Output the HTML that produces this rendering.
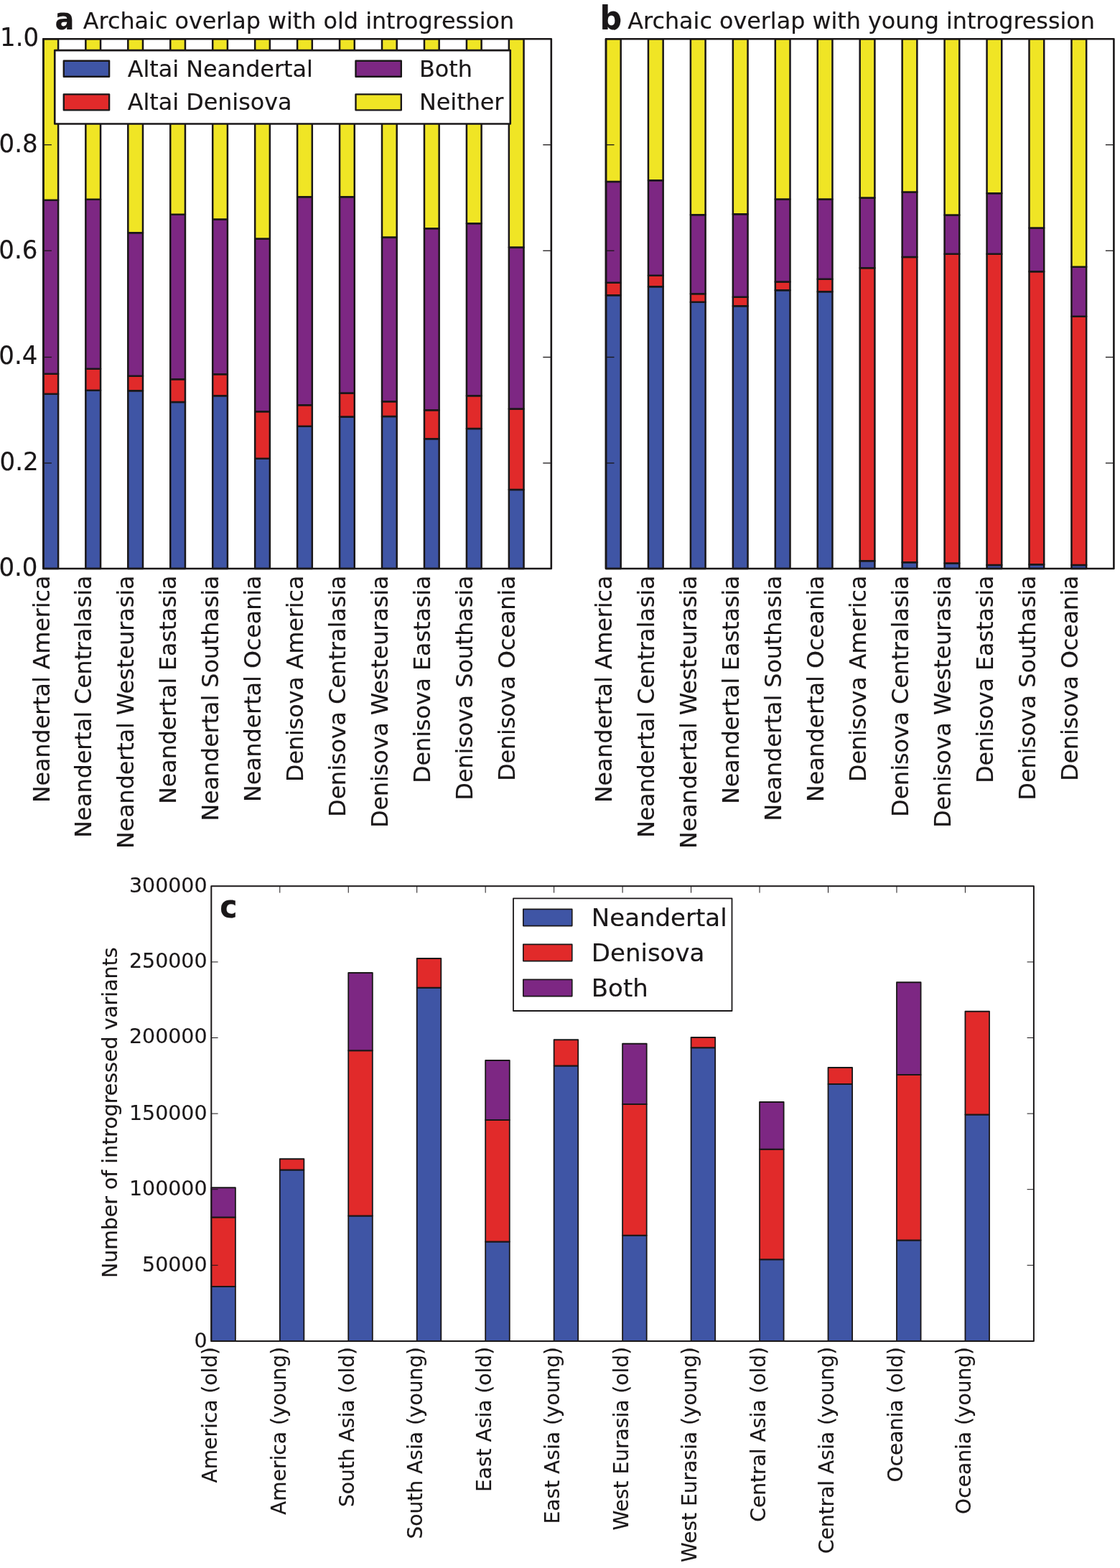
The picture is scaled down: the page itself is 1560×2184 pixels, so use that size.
<!DOCTYPE html>
<html lang="en">
<head>
<meta charset="utf-8">
<title>Archaic overlap with introgression</title>
<style>
html,body{margin:0;padding:0;background:#fff;}
body{width:1560px;height:2184px;overflow:hidden;}
svg{display:block;}
text{fill:#1a1718;stroke:#1a1718;stroke-width:0.18px;stroke-linejoin:round;}
rect{stroke-linejoin:round;}
</style>
</head>
<body>
<svg width="1560" height="2184" viewBox="0 0 1560 2184">
<rect x="0" y="0" width="1560" height="2184" fill="#fff"/>
<g>
<rect x="60.4" y="548.75" width="20.7" height="243.25" fill="#3f55a5" stroke="#1a1718" stroke-width="2.5"/>
<rect x="60.4" y="520.75" width="20.7" height="28" fill="#e12a2a" stroke="#1a1718" stroke-width="2.5"/>
<rect x="60.4" y="278.75" width="20.7" height="242" fill="#7d2783" stroke="#1a1718" stroke-width="2.5"/>
<rect x="60.4" y="54.3" width="20.7" height="224.45" fill="#f0e525" stroke="#1a1718" stroke-width="2.5"/>
<rect x="119.35" y="543.75" width="20.7" height="248.25" fill="#3f55a5" stroke="#1a1718" stroke-width="2.5"/>
<rect x="119.35" y="513.75" width="20.7" height="30" fill="#e12a2a" stroke="#1a1718" stroke-width="2.5"/>
<rect x="119.35" y="277.75" width="20.7" height="236" fill="#7d2783" stroke="#1a1718" stroke-width="2.5"/>
<rect x="119.35" y="54.3" width="20.7" height="223.45" fill="#f0e525" stroke="#1a1718" stroke-width="2.5"/>
<rect x="178.3" y="544.25" width="20.7" height="247.75" fill="#3f55a5" stroke="#1a1718" stroke-width="2.5"/>
<rect x="178.3" y="523.75" width="20.7" height="20.5" fill="#e12a2a" stroke="#1a1718" stroke-width="2.5"/>
<rect x="178.3" y="324.25" width="20.7" height="199.5" fill="#7d2783" stroke="#1a1718" stroke-width="2.5"/>
<rect x="178.3" y="54.3" width="20.7" height="269.95" fill="#f0e525" stroke="#1a1718" stroke-width="2.5"/>
<rect x="237.25" y="560" width="20.7" height="232" fill="#3f55a5" stroke="#1a1718" stroke-width="2.5"/>
<rect x="237.25" y="528.25" width="20.7" height="31.75" fill="#e12a2a" stroke="#1a1718" stroke-width="2.5"/>
<rect x="237.25" y="298.75" width="20.7" height="229.5" fill="#7d2783" stroke="#1a1718" stroke-width="2.5"/>
<rect x="237.25" y="54.3" width="20.7" height="244.45" fill="#f0e525" stroke="#1a1718" stroke-width="2.5"/>
<rect x="296.2" y="551.25" width="20.7" height="240.75" fill="#3f55a5" stroke="#1a1718" stroke-width="2.5"/>
<rect x="296.2" y="521.25" width="20.7" height="30" fill="#e12a2a" stroke="#1a1718" stroke-width="2.5"/>
<rect x="296.2" y="305.5" width="20.7" height="215.75" fill="#7d2783" stroke="#1a1718" stroke-width="2.5"/>
<rect x="296.2" y="54.3" width="20.7" height="251.2" fill="#f0e525" stroke="#1a1718" stroke-width="2.5"/>
<rect x="355.15" y="638.75" width="20.7" height="153.25" fill="#3f55a5" stroke="#1a1718" stroke-width="2.5"/>
<rect x="355.15" y="573.25" width="20.7" height="65.5" fill="#e12a2a" stroke="#1a1718" stroke-width="2.5"/>
<rect x="355.15" y="332.5" width="20.7" height="240.75" fill="#7d2783" stroke="#1a1718" stroke-width="2.5"/>
<rect x="355.15" y="54.3" width="20.7" height="278.2" fill="#f0e525" stroke="#1a1718" stroke-width="2.5"/>
<rect x="414.1" y="593.75" width="20.7" height="198.25" fill="#3f55a5" stroke="#1a1718" stroke-width="2.5"/>
<rect x="414.1" y="564.25" width="20.7" height="29.5" fill="#e12a2a" stroke="#1a1718" stroke-width="2.5"/>
<rect x="414.1" y="274.25" width="20.7" height="290" fill="#7d2783" stroke="#1a1718" stroke-width="2.5"/>
<rect x="414.1" y="54.3" width="20.7" height="219.95" fill="#f0e525" stroke="#1a1718" stroke-width="2.5"/>
<rect x="473.05" y="580.5" width="20.7" height="211.5" fill="#3f55a5" stroke="#1a1718" stroke-width="2.5"/>
<rect x="473.05" y="547.5" width="20.7" height="33" fill="#e12a2a" stroke="#1a1718" stroke-width="2.5"/>
<rect x="473.05" y="274.25" width="20.7" height="273.25" fill="#7d2783" stroke="#1a1718" stroke-width="2.5"/>
<rect x="473.05" y="54.3" width="20.7" height="219.95" fill="#f0e525" stroke="#1a1718" stroke-width="2.5"/>
<rect x="532" y="580" width="20.7" height="212" fill="#3f55a5" stroke="#1a1718" stroke-width="2.5"/>
<rect x="532" y="559.25" width="20.7" height="20.75" fill="#e12a2a" stroke="#1a1718" stroke-width="2.5"/>
<rect x="532" y="330.5" width="20.7" height="228.75" fill="#7d2783" stroke="#1a1718" stroke-width="2.5"/>
<rect x="532" y="54.3" width="20.7" height="276.2" fill="#f0e525" stroke="#1a1718" stroke-width="2.5"/>
<rect x="590.95" y="611.25" width="20.7" height="180.75" fill="#3f55a5" stroke="#1a1718" stroke-width="2.5"/>
<rect x="590.95" y="571.25" width="20.7" height="40" fill="#e12a2a" stroke="#1a1718" stroke-width="2.5"/>
<rect x="590.95" y="318.25" width="20.7" height="253" fill="#7d2783" stroke="#1a1718" stroke-width="2.5"/>
<rect x="590.95" y="54.3" width="20.7" height="263.95" fill="#f0e525" stroke="#1a1718" stroke-width="2.5"/>
<rect x="649.9" y="597" width="20.7" height="195" fill="#3f55a5" stroke="#1a1718" stroke-width="2.5"/>
<rect x="649.9" y="551.25" width="20.7" height="45.75" fill="#e12a2a" stroke="#1a1718" stroke-width="2.5"/>
<rect x="649.9" y="311.25" width="20.7" height="240" fill="#7d2783" stroke="#1a1718" stroke-width="2.5"/>
<rect x="649.9" y="54.3" width="20.7" height="256.95" fill="#f0e525" stroke="#1a1718" stroke-width="2.5"/>
<rect x="708.85" y="682" width="20.7" height="110" fill="#3f55a5" stroke="#1a1718" stroke-width="2.5"/>
<rect x="708.85" y="569.5" width="20.7" height="112.5" fill="#e12a2a" stroke="#1a1718" stroke-width="2.5"/>
<rect x="708.85" y="344.5" width="20.7" height="225" fill="#7d2783" stroke="#1a1718" stroke-width="2.5"/>
<rect x="708.85" y="54.3" width="20.7" height="290.2" fill="#f0e525" stroke="#1a1718" stroke-width="2.5"/>
<line x1="60.4" y1="645" x2="71.9" y2="645" stroke="#1a1718" stroke-width="1.3"/>
<line x1="767.8" y1="645" x2="756.3" y2="645" stroke="#1a1718" stroke-width="1.3"/>
<line x1="60.4" y1="497.5" x2="71.9" y2="497.5" stroke="#1a1718" stroke-width="1.3"/>
<line x1="767.8" y1="497.5" x2="756.3" y2="497.5" stroke="#1a1718" stroke-width="1.3"/>
<line x1="60.4" y1="349.2" x2="71.9" y2="349.2" stroke="#1a1718" stroke-width="1.3"/>
<line x1="767.8" y1="349.2" x2="756.3" y2="349.2" stroke="#1a1718" stroke-width="1.3"/>
<line x1="60.4" y1="201.7" x2="71.9" y2="201.7" stroke="#1a1718" stroke-width="1.3"/>
<line x1="767.8" y1="201.7" x2="756.3" y2="201.7" stroke="#1a1718" stroke-width="1.3"/>
<rect x="60.4" y="54.3" width="707.4" height="737.7" fill="none" stroke="#1a1718" stroke-width="2.6"/>
<text transform="translate(52.5 802.4) scale(0.972 1)" font-size="35" text-anchor="end" font-family="'DejaVu Sans','Liberation Sans',sans-serif">0.0</text>
<text transform="translate(53.7 655.36) scale(0.972 1)" font-size="35" text-anchor="end" font-family="'DejaVu Sans','Liberation Sans',sans-serif">0.2</text>
<text transform="translate(52.4 507.02) scale(0.972 1)" font-size="35" text-anchor="end" font-family="'DejaVu Sans','Liberation Sans',sans-serif">0.4</text>
<text transform="translate(52.4 359.68) scale(0.972 1)" font-size="35" text-anchor="end" font-family="'DejaVu Sans','Liberation Sans',sans-serif">0.6</text>
<text transform="translate(52.7 211.54) scale(0.972 1)" font-size="35" text-anchor="end" font-family="'DejaVu Sans','Liberation Sans',sans-serif">0.8</text>
<text transform="translate(54.2 64.2) scale(0.972 1)" font-size="35" text-anchor="end" font-family="'DejaVu Sans','Liberation Sans',sans-serif">1.0</text>
<text x="68.55" y="801.6" font-size="31.66" text-anchor="end" transform="rotate(-90 68.55 801.6)" font-family="'DejaVu Sans','Liberation Sans',sans-serif">Neandertal America</text>
<text x="127.5" y="801.6" font-size="31.66" text-anchor="end" transform="rotate(-90 127.5 801.6)" font-family="'DejaVu Sans','Liberation Sans',sans-serif">Neandertal Centralasia</text>
<text x="186.45" y="801.6" font-size="31.66" text-anchor="end" transform="rotate(-90 186.45 801.6)" font-family="'DejaVu Sans','Liberation Sans',sans-serif">Neandertal Westeurasia</text>
<text x="245.4" y="801.6" font-size="31.66" text-anchor="end" transform="rotate(-90 245.4 801.6)" font-family="'DejaVu Sans','Liberation Sans',sans-serif">Neandertal Eastasia</text>
<text x="304.35" y="801.6" font-size="31.66" text-anchor="end" transform="rotate(-90 304.35 801.6)" font-family="'DejaVu Sans','Liberation Sans',sans-serif">Neandertal Southasia</text>
<text x="363.3" y="801.6" font-size="31.66" text-anchor="end" transform="rotate(-90 363.3 801.6)" font-family="'DejaVu Sans','Liberation Sans',sans-serif">Neandertal Oceania</text>
<text x="422.25" y="801.6" font-size="31.66" text-anchor="end" transform="rotate(-90 422.25 801.6)" font-family="'DejaVu Sans','Liberation Sans',sans-serif">Denisova America</text>
<text x="481.2" y="801.6" font-size="31.66" text-anchor="end" transform="rotate(-90 481.2 801.6)" font-family="'DejaVu Sans','Liberation Sans',sans-serif">Denisova Centralasia</text>
<text x="540.15" y="801.6" font-size="31.66" text-anchor="end" transform="rotate(-90 540.15 801.6)" font-family="'DejaVu Sans','Liberation Sans',sans-serif">Denisova Westeurasia</text>
<text x="599.1" y="801.6" font-size="31.66" text-anchor="end" transform="rotate(-90 599.1 801.6)" font-family="'DejaVu Sans','Liberation Sans',sans-serif">Denisova Eastasia</text>
<text x="658.05" y="801.6" font-size="31.66" text-anchor="end" transform="rotate(-90 658.05 801.6)" font-family="'DejaVu Sans','Liberation Sans',sans-serif">Denisova Southasia</text>
<text x="717" y="801.6" font-size="31.66" text-anchor="end" transform="rotate(-90 717 801.6)" font-family="'DejaVu Sans','Liberation Sans',sans-serif">Denisova Oceania</text>
<text transform="translate(76.4 40.7) scale(0.92 1)" font-size="43.3" font-weight="bold" font-family="'DejaVu Sans','Liberation Sans',sans-serif">a</text>
<text x="115.8" y="40" font-size="31.8" text-anchor="start" font-family="'DejaVu Sans','Liberation Sans',sans-serif">Archaic overlap with old introgression</text>
</g>
<g>
<rect x="844" y="411.25" width="20.7" height="380.75" fill="#3f55a5" stroke="#1a1718" stroke-width="2.5"/>
<rect x="844" y="393.75" width="20.7" height="17.5" fill="#e12a2a" stroke="#1a1718" stroke-width="2.5"/>
<rect x="844" y="253" width="20.7" height="140.75" fill="#7d2783" stroke="#1a1718" stroke-width="2.5"/>
<rect x="844" y="54.3" width="20.7" height="198.7" fill="#f0e525" stroke="#1a1718" stroke-width="2.5"/>
<rect x="902.95" y="399.25" width="20.7" height="392.75" fill="#3f55a5" stroke="#1a1718" stroke-width="2.5"/>
<rect x="902.95" y="383.75" width="20.7" height="15.5" fill="#e12a2a" stroke="#1a1718" stroke-width="2.5"/>
<rect x="902.95" y="251.25" width="20.7" height="132.5" fill="#7d2783" stroke="#1a1718" stroke-width="2.5"/>
<rect x="902.95" y="54.3" width="20.7" height="196.95" fill="#f0e525" stroke="#1a1718" stroke-width="2.5"/>
<rect x="961.9" y="420.75" width="20.7" height="371.25" fill="#3f55a5" stroke="#1a1718" stroke-width="2.5"/>
<rect x="961.9" y="409.25" width="20.7" height="11.5" fill="#e12a2a" stroke="#1a1718" stroke-width="2.5"/>
<rect x="961.9" y="299.25" width="20.7" height="110" fill="#7d2783" stroke="#1a1718" stroke-width="2.5"/>
<rect x="961.9" y="54.3" width="20.7" height="244.95" fill="#f0e525" stroke="#1a1718" stroke-width="2.5"/>
<rect x="1020.85" y="426.25" width="20.7" height="365.75" fill="#3f55a5" stroke="#1a1718" stroke-width="2.5"/>
<rect x="1020.85" y="413.75" width="20.7" height="12.5" fill="#e12a2a" stroke="#1a1718" stroke-width="2.5"/>
<rect x="1020.85" y="298.25" width="20.7" height="115.5" fill="#7d2783" stroke="#1a1718" stroke-width="2.5"/>
<rect x="1020.85" y="54.3" width="20.7" height="243.95" fill="#f0e525" stroke="#1a1718" stroke-width="2.5"/>
<rect x="1079.8" y="404.25" width="20.7" height="387.75" fill="#3f55a5" stroke="#1a1718" stroke-width="2.5"/>
<rect x="1079.8" y="392.5" width="20.7" height="11.75" fill="#e12a2a" stroke="#1a1718" stroke-width="2.5"/>
<rect x="1079.8" y="277.5" width="20.7" height="115" fill="#7d2783" stroke="#1a1718" stroke-width="2.5"/>
<rect x="1079.8" y="54.3" width="20.7" height="223.2" fill="#f0e525" stroke="#1a1718" stroke-width="2.5"/>
<rect x="1138.75" y="406.25" width="20.7" height="385.75" fill="#3f55a5" stroke="#1a1718" stroke-width="2.5"/>
<rect x="1138.75" y="388.75" width="20.7" height="17.5" fill="#e12a2a" stroke="#1a1718" stroke-width="2.5"/>
<rect x="1138.75" y="277.5" width="20.7" height="111.25" fill="#7d2783" stroke="#1a1718" stroke-width="2.5"/>
<rect x="1138.75" y="54.3" width="20.7" height="223.2" fill="#f0e525" stroke="#1a1718" stroke-width="2.5"/>
<rect x="1197.7" y="781.25" width="20.7" height="10.75" fill="#3f55a5" stroke="#1a1718" stroke-width="2.5"/>
<rect x="1197.7" y="373.25" width="20.7" height="408" fill="#e12a2a" stroke="#1a1718" stroke-width="2.5"/>
<rect x="1197.7" y="275.5" width="20.7" height="97.75" fill="#7d2783" stroke="#1a1718" stroke-width="2.5"/>
<rect x="1197.7" y="54.3" width="20.7" height="221.2" fill="#f0e525" stroke="#1a1718" stroke-width="2.5"/>
<rect x="1256.65" y="783.25" width="20.7" height="8.75" fill="#3f55a5" stroke="#1a1718" stroke-width="2.5"/>
<rect x="1256.65" y="358" width="20.7" height="425.25" fill="#e12a2a" stroke="#1a1718" stroke-width="2.5"/>
<rect x="1256.65" y="267.5" width="20.7" height="90.5" fill="#7d2783" stroke="#1a1718" stroke-width="2.5"/>
<rect x="1256.65" y="54.3" width="20.7" height="213.2" fill="#f0e525" stroke="#1a1718" stroke-width="2.5"/>
<rect x="1315.6" y="784.5" width="20.7" height="7.5" fill="#3f55a5" stroke="#1a1718" stroke-width="2.5"/>
<rect x="1315.6" y="353.75" width="20.7" height="430.75" fill="#e12a2a" stroke="#1a1718" stroke-width="2.5"/>
<rect x="1315.6" y="299.5" width="20.7" height="54.25" fill="#7d2783" stroke="#1a1718" stroke-width="2.5"/>
<rect x="1315.6" y="54.3" width="20.7" height="245.2" fill="#f0e525" stroke="#1a1718" stroke-width="2.5"/>
<rect x="1374.55" y="787" width="20.7" height="5" fill="#3f55a5" stroke="#1a1718" stroke-width="2.5"/>
<rect x="1374.55" y="353.75" width="20.7" height="433.25" fill="#e12a2a" stroke="#1a1718" stroke-width="2.5"/>
<rect x="1374.55" y="269.25" width="20.7" height="84.5" fill="#7d2783" stroke="#1a1718" stroke-width="2.5"/>
<rect x="1374.55" y="54.3" width="20.7" height="214.95" fill="#f0e525" stroke="#1a1718" stroke-width="2.5"/>
<rect x="1433.5" y="786.25" width="20.7" height="5.75" fill="#3f55a5" stroke="#1a1718" stroke-width="2.5"/>
<rect x="1433.5" y="378.25" width="20.7" height="408" fill="#e12a2a" stroke="#1a1718" stroke-width="2.5"/>
<rect x="1433.5" y="317.5" width="20.7" height="60.75" fill="#7d2783" stroke="#1a1718" stroke-width="2.5"/>
<rect x="1433.5" y="54.3" width="20.7" height="263.2" fill="#f0e525" stroke="#1a1718" stroke-width="2.5"/>
<rect x="1492.45" y="787" width="20.7" height="5" fill="#3f55a5" stroke="#1a1718" stroke-width="2.5"/>
<rect x="1492.45" y="440.75" width="20.7" height="346.25" fill="#e12a2a" stroke="#1a1718" stroke-width="2.5"/>
<rect x="1492.45" y="371.75" width="20.7" height="69" fill="#7d2783" stroke="#1a1718" stroke-width="2.5"/>
<rect x="1492.45" y="54.3" width="20.7" height="317.45" fill="#f0e525" stroke="#1a1718" stroke-width="2.5"/>
<line x1="844" y1="645" x2="855.5" y2="645" stroke="#1a1718" stroke-width="1.3"/>
<line x1="1551.4" y1="645" x2="1539.9" y2="645" stroke="#1a1718" stroke-width="1.3"/>
<line x1="844" y1="497.5" x2="855.5" y2="497.5" stroke="#1a1718" stroke-width="1.3"/>
<line x1="1551.4" y1="497.5" x2="1539.9" y2="497.5" stroke="#1a1718" stroke-width="1.3"/>
<line x1="844" y1="349.2" x2="855.5" y2="349.2" stroke="#1a1718" stroke-width="1.3"/>
<line x1="1551.4" y1="349.2" x2="1539.9" y2="349.2" stroke="#1a1718" stroke-width="1.3"/>
<line x1="844" y1="201.7" x2="855.5" y2="201.7" stroke="#1a1718" stroke-width="1.3"/>
<line x1="1551.4" y1="201.7" x2="1539.9" y2="201.7" stroke="#1a1718" stroke-width="1.3"/>
<rect x="844" y="54.3" width="707.4" height="737.7" fill="none" stroke="#1a1718" stroke-width="2.6"/>
<text x="852.15" y="801.6" font-size="31.66" text-anchor="end" transform="rotate(-90 852.15 801.6)" font-family="'DejaVu Sans','Liberation Sans',sans-serif">Neandertal America</text>
<text x="911.1" y="801.6" font-size="31.66" text-anchor="end" transform="rotate(-90 911.1 801.6)" font-family="'DejaVu Sans','Liberation Sans',sans-serif">Neandertal Centralasia</text>
<text x="970.05" y="801.6" font-size="31.66" text-anchor="end" transform="rotate(-90 970.05 801.6)" font-family="'DejaVu Sans','Liberation Sans',sans-serif">Neandertal Westeurasia</text>
<text x="1029" y="801.6" font-size="31.66" text-anchor="end" transform="rotate(-90 1029 801.6)" font-family="'DejaVu Sans','Liberation Sans',sans-serif">Neandertal Eastasia</text>
<text x="1087.95" y="801.6" font-size="31.66" text-anchor="end" transform="rotate(-90 1087.95 801.6)" font-family="'DejaVu Sans','Liberation Sans',sans-serif">Neandertal Southasia</text>
<text x="1146.9" y="801.6" font-size="31.66" text-anchor="end" transform="rotate(-90 1146.9 801.6)" font-family="'DejaVu Sans','Liberation Sans',sans-serif">Neandertal Oceania</text>
<text x="1205.85" y="801.6" font-size="31.66" text-anchor="end" transform="rotate(-90 1205.85 801.6)" font-family="'DejaVu Sans','Liberation Sans',sans-serif">Denisova America</text>
<text x="1264.8" y="801.6" font-size="31.66" text-anchor="end" transform="rotate(-90 1264.8 801.6)" font-family="'DejaVu Sans','Liberation Sans',sans-serif">Denisova Centralasia</text>
<text x="1323.75" y="801.6" font-size="31.66" text-anchor="end" transform="rotate(-90 1323.75 801.6)" font-family="'DejaVu Sans','Liberation Sans',sans-serif">Denisova Westeurasia</text>
<text x="1382.7" y="801.6" font-size="31.66" text-anchor="end" transform="rotate(-90 1382.7 801.6)" font-family="'DejaVu Sans','Liberation Sans',sans-serif">Denisova Eastasia</text>
<text x="1441.65" y="801.6" font-size="31.66" text-anchor="end" transform="rotate(-90 1441.65 801.6)" font-family="'DejaVu Sans','Liberation Sans',sans-serif">Denisova Southasia</text>
<text x="1500.6" y="801.6" font-size="31.66" text-anchor="end" transform="rotate(-90 1500.6 801.6)" font-family="'DejaVu Sans','Liberation Sans',sans-serif">Denisova Oceania</text>
<text transform="translate(835.4 40.7) scale(0.92 1)" font-size="46.5" font-weight="bold" font-family="'DejaVu Sans','Liberation Sans',sans-serif">b</text>
<text x="874.3" y="40" font-size="31.8" text-anchor="start" font-family="'DejaVu Sans','Liberation Sans',sans-serif">Archaic overlap with young introgression</text>
</g>
<g>
<rect x="76.25" y="70.1" width="634.5" height="102.4" fill="#fff" stroke="#1a1718" stroke-width="2.6"/>
<rect x="88.8" y="84.8" width="63.3" height="22" fill="#3f55a5" stroke="#1a1718" stroke-width="2.4"/>
<text x="177.7" y="107" font-size="31.8" text-anchor="start" font-family="'DejaVu Sans','Liberation Sans',sans-serif">Altai Neandertal</text>
<rect x="88.8" y="131.35" width="63.3" height="22" fill="#e12a2a" stroke="#1a1718" stroke-width="2.4"/>
<text x="177.7" y="153.25" font-size="31.8" text-anchor="start" font-family="'DejaVu Sans','Liberation Sans',sans-serif">Altai Denisova</text>
<rect x="495.5" y="84.8" width="63.3" height="22" fill="#7d2783" stroke="#1a1718" stroke-width="2.4"/>
<text x="584" y="107" font-size="31.8" text-anchor="start" font-family="'DejaVu Sans','Liberation Sans',sans-serif">Both</text>
<rect x="495.5" y="131.35" width="63.3" height="22" fill="#f0e525" stroke="#1a1718" stroke-width="2.4"/>
<text x="584" y="153.25" font-size="31.8" text-anchor="start" font-family="'DejaVu Sans','Liberation Sans',sans-serif">Neither</text>
</g>
<g>
<rect x="294.3" y="1792" width="33.6" height="75.9" fill="#3f55a5" stroke="#1a1718" stroke-width="1.8"/>
<rect x="294.3" y="1695.5" width="33.6" height="96.5" fill="#e12a2a" stroke="#1a1718" stroke-width="1.8"/>
<rect x="294.3" y="1654.25" width="33.6" height="41.25" fill="#7d2783" stroke="#1a1718" stroke-width="1.8"/>
<rect x="389.77" y="1629.5" width="33.6" height="238.4" fill="#3f55a5" stroke="#1a1718" stroke-width="1.8"/>
<rect x="389.77" y="1614.25" width="33.6" height="15.25" fill="#e12a2a" stroke="#1a1718" stroke-width="1.8"/>
<rect x="485.23" y="1693.5" width="33.6" height="174.4" fill="#3f55a5" stroke="#1a1718" stroke-width="1.8"/>
<rect x="485.23" y="1463.25" width="33.6" height="230.25" fill="#e12a2a" stroke="#1a1718" stroke-width="1.8"/>
<rect x="485.23" y="1355" width="33.6" height="108.25" fill="#7d2783" stroke="#1a1718" stroke-width="1.8"/>
<rect x="580.7" y="1375.75" width="33.6" height="492.15" fill="#3f55a5" stroke="#1a1718" stroke-width="1.8"/>
<rect x="580.7" y="1335" width="33.6" height="40.75" fill="#e12a2a" stroke="#1a1718" stroke-width="1.8"/>
<rect x="676.17" y="1729.5" width="33.6" height="138.4" fill="#3f55a5" stroke="#1a1718" stroke-width="1.8"/>
<rect x="676.17" y="1560" width="33.6" height="169.5" fill="#e12a2a" stroke="#1a1718" stroke-width="1.8"/>
<rect x="676.17" y="1477" width="33.6" height="83" fill="#7d2783" stroke="#1a1718" stroke-width="1.8"/>
<rect x="771.63" y="1484.5" width="33.6" height="383.4" fill="#3f55a5" stroke="#1a1718" stroke-width="1.8"/>
<rect x="771.63" y="1448.25" width="33.6" height="36.25" fill="#e12a2a" stroke="#1a1718" stroke-width="1.8"/>
<rect x="867.1" y="1720.75" width="33.6" height="147.15" fill="#3f55a5" stroke="#1a1718" stroke-width="1.8"/>
<rect x="867.1" y="1538" width="33.6" height="182.75" fill="#e12a2a" stroke="#1a1718" stroke-width="1.8"/>
<rect x="867.1" y="1453.75" width="33.6" height="84.25" fill="#7d2783" stroke="#1a1718" stroke-width="1.8"/>
<rect x="962.57" y="1459.25" width="33.6" height="408.65" fill="#3f55a5" stroke="#1a1718" stroke-width="1.8"/>
<rect x="962.57" y="1445" width="33.6" height="14.25" fill="#e12a2a" stroke="#1a1718" stroke-width="1.8"/>
<rect x="1058.03" y="1754.25" width="33.6" height="113.65" fill="#3f55a5" stroke="#1a1718" stroke-width="1.8"/>
<rect x="1058.03" y="1600.75" width="33.6" height="153.5" fill="#e12a2a" stroke="#1a1718" stroke-width="1.8"/>
<rect x="1058.03" y="1535" width="33.6" height="65.75" fill="#7d2783" stroke="#1a1718" stroke-width="1.8"/>
<rect x="1153.5" y="1510" width="33.6" height="357.9" fill="#3f55a5" stroke="#1a1718" stroke-width="1.8"/>
<rect x="1153.5" y="1487" width="33.6" height="23" fill="#e12a2a" stroke="#1a1718" stroke-width="1.8"/>
<rect x="1248.97" y="1727.5" width="33.6" height="140.4" fill="#3f55a5" stroke="#1a1718" stroke-width="1.8"/>
<rect x="1248.97" y="1497" width="33.6" height="230.5" fill="#e12a2a" stroke="#1a1718" stroke-width="1.8"/>
<rect x="1248.97" y="1368.25" width="33.6" height="128.75" fill="#7d2783" stroke="#1a1718" stroke-width="1.8"/>
<rect x="1344.43" y="1552.5" width="33.6" height="315.4" fill="#3f55a5" stroke="#1a1718" stroke-width="1.8"/>
<rect x="1344.43" y="1408.75" width="33.6" height="143.75" fill="#e12a2a" stroke="#1a1718" stroke-width="1.8"/>
<line x1="294.3" y1="1762.3" x2="303.6" y2="1762.3" stroke="#1a1718" stroke-width="1.0"/>
<line x1="1439.9" y1="1762.3" x2="1430.6" y2="1762.3" stroke="#1a1718" stroke-width="1.0"/>
<line x1="294.3" y1="1656.7" x2="303.6" y2="1656.7" stroke="#1a1718" stroke-width="1.0"/>
<line x1="1439.9" y1="1656.7" x2="1430.6" y2="1656.7" stroke="#1a1718" stroke-width="1.0"/>
<line x1="294.3" y1="1551.1" x2="303.6" y2="1551.1" stroke="#1a1718" stroke-width="1.0"/>
<line x1="1439.9" y1="1551.1" x2="1430.6" y2="1551.1" stroke="#1a1718" stroke-width="1.0"/>
<line x1="294.3" y1="1445.5" x2="303.6" y2="1445.5" stroke="#1a1718" stroke-width="1.0"/>
<line x1="1439.9" y1="1445.5" x2="1430.6" y2="1445.5" stroke="#1a1718" stroke-width="1.0"/>
<line x1="294.3" y1="1339.9" x2="303.6" y2="1339.9" stroke="#1a1718" stroke-width="1.0"/>
<line x1="1439.9" y1="1339.9" x2="1430.6" y2="1339.9" stroke="#1a1718" stroke-width="1.0"/>
<line x1="389.77" y1="1234.3" x2="389.77" y2="1243.6" stroke="#1a1718" stroke-width="1.0"/>
<line x1="485.23" y1="1234.3" x2="485.23" y2="1243.6" stroke="#1a1718" stroke-width="1.0"/>
<line x1="580.7" y1="1234.3" x2="580.7" y2="1243.6" stroke="#1a1718" stroke-width="1.0"/>
<line x1="676.17" y1="1234.3" x2="676.17" y2="1243.6" stroke="#1a1718" stroke-width="1.0"/>
<line x1="771.63" y1="1234.3" x2="771.63" y2="1243.6" stroke="#1a1718" stroke-width="1.0"/>
<line x1="867.1" y1="1234.3" x2="867.1" y2="1243.6" stroke="#1a1718" stroke-width="1.0"/>
<line x1="962.57" y1="1234.3" x2="962.57" y2="1243.6" stroke="#1a1718" stroke-width="1.0"/>
<line x1="1058.03" y1="1234.3" x2="1058.03" y2="1243.6" stroke="#1a1718" stroke-width="1.0"/>
<line x1="1153.5" y1="1234.3" x2="1153.5" y2="1243.6" stroke="#1a1718" stroke-width="1.0"/>
<line x1="1248.97" y1="1234.3" x2="1248.97" y2="1243.6" stroke="#1a1718" stroke-width="1.0"/>
<line x1="1344.43" y1="1234.3" x2="1344.43" y2="1243.6" stroke="#1a1718" stroke-width="1.0"/>
<rect x="294.3" y="1234.3" width="1145.6" height="633.6" fill="none" stroke="#1a1718" stroke-width="2.0"/>
<text transform="translate(288.6 1877.3) scale(0.975 1)" font-size="29.2" text-anchor="end" font-family="'DejaVu Sans','Liberation Sans',sans-serif">0</text>
<text transform="translate(288.6 1770.7) scale(0.975 1)" font-size="29.2" text-anchor="end" font-family="'DejaVu Sans','Liberation Sans',sans-serif">50000</text>
<text transform="translate(288.6 1665.1) scale(0.975 1)" font-size="29.2" text-anchor="end" font-family="'DejaVu Sans','Liberation Sans',sans-serif">100000</text>
<text transform="translate(288.6 1559.5) scale(0.975 1)" font-size="29.2" text-anchor="end" font-family="'DejaVu Sans','Liberation Sans',sans-serif">150000</text>
<text transform="translate(288.6 1453.3) scale(0.975 1)" font-size="29.2" text-anchor="end" font-family="'DejaVu Sans','Liberation Sans',sans-serif">200000</text>
<text transform="translate(288.6 1348.3) scale(0.975 1)" font-size="29.2" text-anchor="end" font-family="'DejaVu Sans','Liberation Sans',sans-serif">250000</text>
<text transform="translate(288.6 1242.9) scale(0.975 1)" font-size="29.2" text-anchor="end" font-family="'DejaVu Sans','Liberation Sans',sans-serif">300000</text>
<text x="302.1" y="1875.9" font-size="28.1" text-anchor="end" transform="rotate(-90 302.1 1875.9)" font-family="'DejaVu Sans','Liberation Sans',sans-serif">America (old)</text>
<text x="397.57" y="1875.9" font-size="28.1" text-anchor="end" transform="rotate(-90 397.57 1875.9)" font-family="'DejaVu Sans','Liberation Sans',sans-serif">America (young)</text>
<text x="493.03" y="1875.9" font-size="28.1" text-anchor="end" transform="rotate(-90 493.03 1875.9)" font-family="'DejaVu Sans','Liberation Sans',sans-serif">South Asia (old)</text>
<text x="588.5" y="1875.9" font-size="28.1" text-anchor="end" transform="rotate(-90 588.5 1875.9)" font-family="'DejaVu Sans','Liberation Sans',sans-serif">South Asia (young)</text>
<text x="683.97" y="1875.9" font-size="28.1" text-anchor="end" transform="rotate(-90 683.97 1875.9)" font-family="'DejaVu Sans','Liberation Sans',sans-serif">East Asia (old)</text>
<text x="779.43" y="1875.9" font-size="28.1" text-anchor="end" transform="rotate(-90 779.43 1875.9)" font-family="'DejaVu Sans','Liberation Sans',sans-serif">East Asia (young)</text>
<text x="874.9" y="1875.9" font-size="28.1" text-anchor="end" transform="rotate(-90 874.9 1875.9)" font-family="'DejaVu Sans','Liberation Sans',sans-serif">West Eurasia (old)</text>
<text x="970.37" y="1875.9" font-size="28.1" text-anchor="end" transform="rotate(-90 970.37 1875.9)" font-family="'DejaVu Sans','Liberation Sans',sans-serif">West Eurasia (young)</text>
<text x="1065.83" y="1875.9" font-size="28.1" text-anchor="end" transform="rotate(-90 1065.83 1875.9)" font-family="'DejaVu Sans','Liberation Sans',sans-serif">Central Asia (old)</text>
<text x="1161.3" y="1875.9" font-size="28.1" text-anchor="end" transform="rotate(-90 1161.3 1875.9)" font-family="'DejaVu Sans','Liberation Sans',sans-serif">Central Asia (young)</text>
<text x="1256.77" y="1875.9" font-size="28.1" text-anchor="end" transform="rotate(-90 1256.77 1875.9)" font-family="'DejaVu Sans','Liberation Sans',sans-serif">Oceania (old)</text>
<text x="1352.23" y="1875.9" font-size="28.1" text-anchor="end" transform="rotate(-90 1352.23 1875.9)" font-family="'DejaVu Sans','Liberation Sans',sans-serif">Oceania (young)</text>
<text x="163.1" y="1549.8" font-size="28.4" text-anchor="middle" transform="rotate(-90 163.1 1549.8)" font-family="'DejaVu Sans','Liberation Sans',sans-serif">Number of introgressed variants</text>
<text transform="translate(306.3 1278.3) scale(0.92 1)" font-size="44.5" font-weight="bold" font-family="'DejaVu Sans','Liberation Sans',sans-serif">c</text>
<rect x="715" y="1251.3" width="304.5" height="156.7" fill="#fff" stroke="#1a1718" stroke-width="1.8"/>
<rect x="728.8" y="1266.4" width="68" height="23.2" fill="#3f55a5" stroke="#1a1718" stroke-width="1.6"/>
<text x="823.8" y="1290.4" font-size="34" text-anchor="start" font-family="'DejaVu Sans','Liberation Sans',sans-serif">Neandertal</text>
<rect x="728.8" y="1315.4" width="68" height="23.2" fill="#e12a2a" stroke="#1a1718" stroke-width="1.6"/>
<text x="823.8" y="1339.4" font-size="34" text-anchor="start" font-family="'DejaVu Sans','Liberation Sans',sans-serif">Denisova</text>
<rect x="728.8" y="1364.4" width="68" height="23.2" fill="#7d2783" stroke="#1a1718" stroke-width="1.6"/>
<text x="823.8" y="1388.4" font-size="34" text-anchor="start" font-family="'DejaVu Sans','Liberation Sans',sans-serif">Both</text>
</g>
</svg>
</body>
</html>
